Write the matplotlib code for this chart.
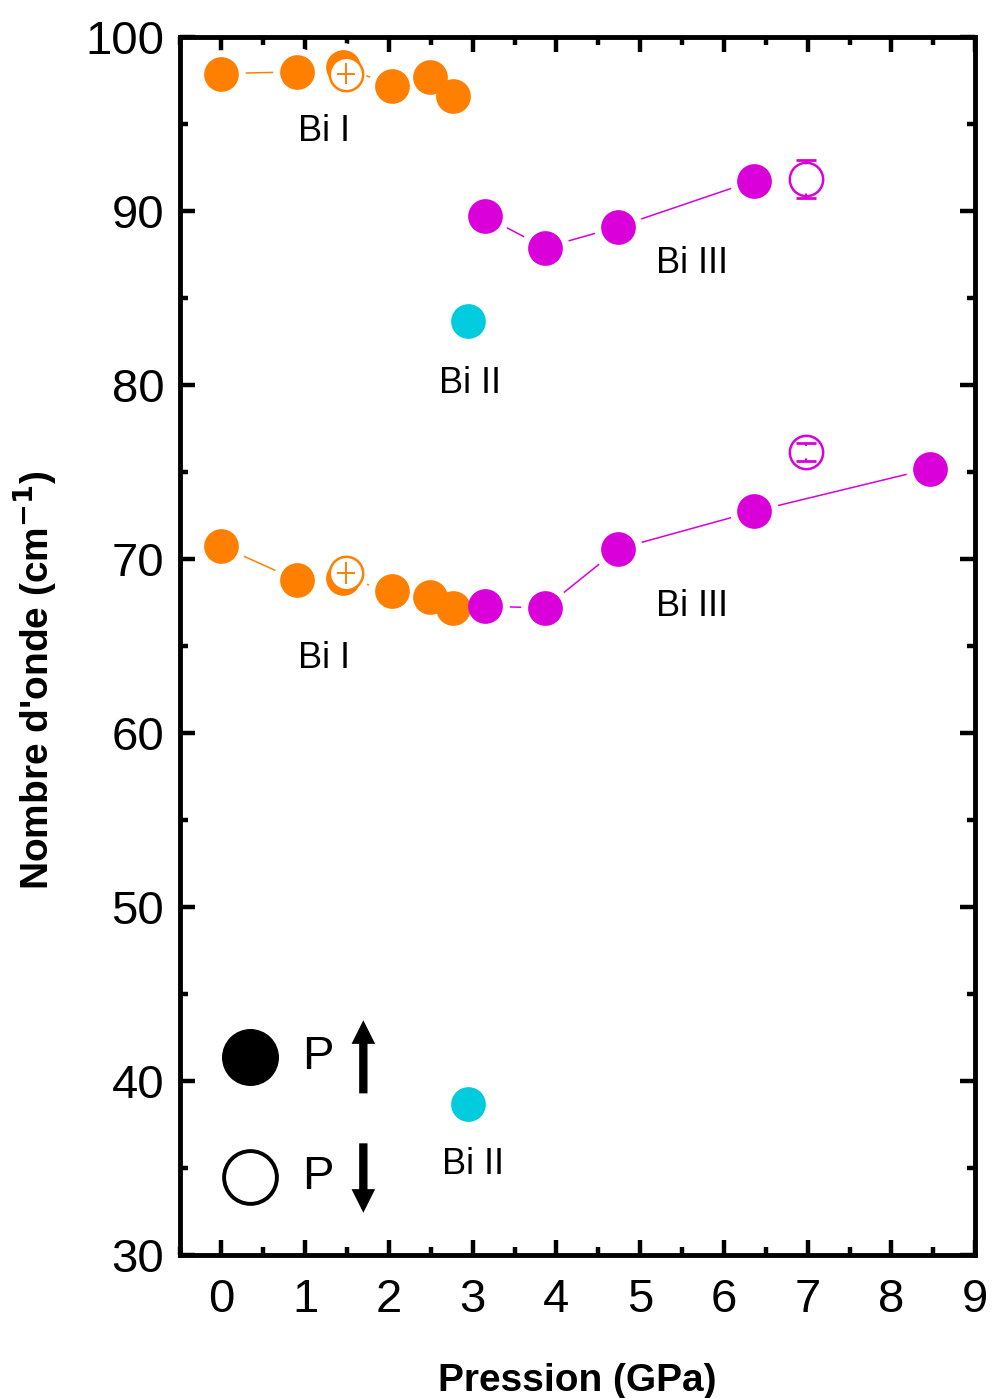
import numpy as np
import matplotlib
matplotlib.use('Agg')
import matplotlib.pyplot as plt
from matplotlib.ticker import MultipleLocator

plt.rcParams['font.family'] = ['Liberation Sans', 'DejaVu Sans']

orange = '#FF8000'
magenta = '#DA00DA'
cyan = '#00CCDD'

# Bi I, pressure increasing (filled)
biI_hi_p = [0.0, 0.9, 1.45, 2.04, 2.49, 2.76]
biI_hi_w = [97.9, 98.0, 98.3, 97.2, 97.7, 96.6]
biI_lo_p = [0.0, 0.9, 1.45, 2.04, 2.49, 2.76]
biI_lo_w = [70.75, 68.8, 68.9, 68.2, 67.8, 67.2]

# Bi I, pressure decreasing (open)
biI_open_p = [1.49, 1.49]
biI_open_w = [97.9, 69.2]
biI_open_err = [0.6, 0.65]

# Bi II
biII_p = [2.94, 2.94]
biII_w = [83.7, 38.7]

# Bi III, pressure increasing (filled)
biIII_hi_p = [3.15, 3.86, 4.74, 6.36]
biIII_hi_w = [89.7, 87.9, 89.1, 91.75]
biIII_lo_p = [3.15, 3.86, 4.74, 6.36, 8.46]
biIII_lo_w = [67.3, 67.2, 70.6, 72.75, 75.2]

# Bi III, pressure decreasing (open)
biIII_open_p = [6.98, 6.98]
biIII_open_w = [91.85, 76.15]
biIII_open_err = [1.1, 0.5]

labels = ['Bi I', 'Bi III', 'Bi II', 'Bi III', 'Bi I', 'Bi II']
label_x = [1.23, 5.62, 2.97, 5.62, 1.23, 3.01]
label_y = [94.6, 87.0, 80.1, 67.3, 64.3, 35.2]

fig = plt.figure(figsize=(9.92, 13.98), dpi=100)
ax = fig.add_axes([0.181, 0.102, 0.802, 0.8715])

ms = 25
for xs, ys, c in [(biI_hi_p, biI_hi_w, orange), (biI_lo_p, biI_lo_w, orange),
                  (biIII_hi_p, biIII_hi_w, magenta), (biIII_lo_p, biIII_lo_w, magenta)]:
    ax.plot(xs, ys, '-', color=c, lw=1.1, zorder=1)
    # white halo so the line stops short of each marker
    ax.plot(xs, ys, 'o', ms=ms + 10, mfc='white', mec='none', zorder=2)
    ax.plot(xs, ys, 'o', ms=ms, mfc=c, mec='none', zorder=3)

ax.plot(biII_p, biII_w, 'o', ms=ms, mfc=cyan, mec='none', zorder=3)

# open symbols (pressure release): white face, error bars on top
ax.plot(biI_open_p, biI_open_w, 'o', ms=ms - 1, mfc='white', mec=orange, mew=1.8, zorder=4)
eb = ax.errorbar(biI_open_p, biI_open_w, yerr=biI_open_err, xerr=0.11, fmt='none',
                 ecolor=orange, elinewidth=1.4, capsize=0, zorder=5)

ax.plot(biIII_open_p, biIII_open_w, 'o', ms=ms - 1, mfc='white', mec=magenta, mew=1.8, zorder=4)
eb = ax.errorbar(biIII_open_p, biIII_open_w, yerr=biIII_open_err, fmt='none',
                 ecolor=magenta, elinewidth=1.5, capsize=7, capthick=2, zorder=5)
# gap in the middle of the bars, as in the original
ax.scatter(biIII_open_p, biIII_open_w, s=[21 ** 2, 9 ** 2], c='white', edgecolors='none', zorder=6)
for cap in eb[1]:
    cap.set_zorder(7)

for t, x, y in zip(labels, label_x, label_y):
    ax.text(x, y, t, fontsize=26, ha='center', va='center')

# legend drawn by hand
ax.plot([0.088], [0.1626], 'o', ms=40, mfc='black', mec='black', transform=ax.transAxes, clip_on=False)
ax.plot([0.088], [0.064], 'o', ms=38, mfc='white', mec='black', mew=2.8, transform=ax.transAxes, clip_on=False)
ax.text(0.174, 0.1626, 'P', fontsize=34, ha='center', va='center', transform=ax.transAxes)
ax.text(0.174, 0.064, 'P', fontsize=34, ha='center', va='center', transform=ax.transAxes)
arr = dict(arrowstyle='simple,head_length=0.85,head_width=0.85,tail_width=0.3',
           lw=0, fc='black', ec='none', mutation_scale=20, shrinkA=0, shrinkB=0)
ax.annotate('', xy=(0.231, 0.193), xytext=(0.231, 0.133), xycoords='axes fraction', arrowprops=arr)
ax.annotate('', xy=(0.231, 0.035), xytext=(0.231, 0.092), xycoords='axes fraction', arrowprops=arr)

ax.set_xlim(-0.5, 9)
ax.set_ylim(30, 100)
ax.xaxis.set_major_locator(MultipleLocator(1))
ax.xaxis.set_minor_locator(MultipleLocator(0.5))
ax.yaxis.set_major_locator(MultipleLocator(10))
ax.yaxis.set_minor_locator(MultipleLocator(5))
ax.tick_params(which='both', direction='in', top=True, right=True, width=3.2, labelsize=34)
ax.tick_params(which='major', length=11)
ax.tick_params(which='minor', length=5.5)
ax.tick_params(axis='x', which='major', pad=16)
ax.tick_params(axis='y', which='major', pad=11)
for s in ax.spines.values():
    s.set_linewidth(3.5)

ax.set_xlabel('Pression (GPa)', fontsize=28, fontweight='bold', labelpad=30)
ax.set_ylabel("Nombre d'onde (cm$^{\\mathbf{-1}}$)", fontsize=28, fontweight='bold')
ax.yaxis.set_label_coords(-0.153, 0.472)

fig.savefig('out.png', dpi=100)
